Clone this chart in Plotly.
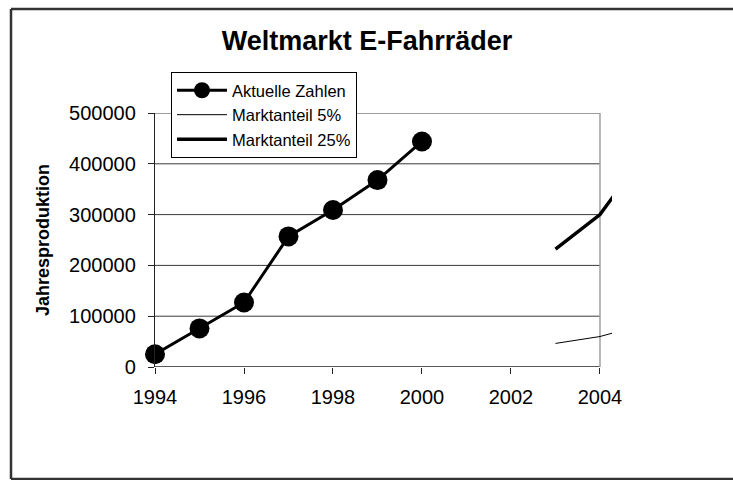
import plotly.graph_objects as go

# ---- data ----
years_actual = [1994, 1995, 1996, 1997, 1998, 1999, 2000]
values_actual = [25000, 76000, 127000, 257000, 309000, 368000, 444000]

years_forecast = [2003, 2004, 2005]
values_5pct = [46400, 60000, 84000]
values_25pct = [232000, 300000, 420000]

series_names = ["Aktuelle Zahlen", "Marktanteil 5%", "Marktanteil 25%"]
y_ticks = [0, 100000, 200000, 300000, 400000, 500000]
x_ticks = [1994, 1996, 1998, 2000, 2002, 2004]

title_text = "Weltmarkt E-Fahrräder"
y_title = "Jahresproduktion"

# ---- layout geometry (window pixels) ----
W, H = 733, 480
PLOT_L, PLOT_R, PLOT_T, PLOT_B = 155, 612, 113, 367
ML, MT = PLOT_L, PLOT_T
PW, PH = PLOT_R - PLOT_L, PLOT_B - PLOT_T
MR, MB = W - ML - PW, H - MT - PH
X_MIN, X_AXIS_END, X_VIEW_END = 1994, 2004, 2004.27
FONT = "Arial, Liberation Sans, sans-serif"


def px_x(p):
    return (p - PLOT_L) / PW


def px_y(p):
    return (PLOT_B - p) / PH


fig = go.Figure()
fig.add_trace(go.Scatter(
    x=years_actual, y=values_actual, name=series_names[0],
    mode="lines+markers", line=dict(color="black", width=3),
    marker=dict(color="black", size=20), cliponaxis=False,
    legendgroup="a",
))
fig.add_trace(go.Scatter(
    x=years_forecast, y=values_5pct, name=series_names[1],
    mode="lines", line=dict(color="black", width=1),
    legendgroup="b",
))
fig.add_trace(go.Scatter(
    x=years_forecast, y=values_25pct, name=series_names[2],
    mode="lines", line=dict(color="black", width=3.5),
    legendgroup="c",
))

shapes = []
for v in y_ticks[1:]:
    shapes.append(dict(type="line", xref="x", yref="y", x0=X_MIN, x1=X_AXIS_END,
                       y0=v, y1=v, line=dict(color="#3a3a3a", width=1), layer="below"))
shapes.append(dict(type="line", xref="x", yref="y", x0=X_MIN, x1=X_AXIS_END,
                   y0=0, y1=0, line=dict(color="#222", width=1.3), layer="below"))
shapes.append(dict(type="line", xref="x", yref="y", x0=X_AXIS_END, x1=X_AXIS_END,
                   y0=0, y1=y_ticks[-1], line=dict(color="#a0a0a0", width=1.5), layer="below"))
# outer chart frame: left, top and bottom edges (right edge lies outside the picture)
frame = dict(color="#333", width=2.5)
bx0, bx1, by0, by1 = px_x(11), px_x(760), px_y(479), px_y(9)
shapes.append(dict(type="line", xref="paper", yref="paper", x0=bx0, x1=bx0, y0=by0, y1=by1, line=frame))
shapes.append(dict(type="line", xref="paper", yref="paper", x0=bx0, x1=bx1, y0=by1, y1=by1, line=frame))
shapes.append(dict(type="line", xref="paper", yref="paper", x0=bx0, x1=bx1, y0=by0, y1=by0, line=frame))

fig.update_layout(
    width=W, height=H,
    margin=dict(l=ML, r=MR, t=MT, b=MB, autoexpand=False),
    paper_bgcolor="white", plot_bgcolor="white",
    font=dict(family=FONT, color="black"),
    title=dict(text="<b>" + title_text + "</b>", x=367 / W, xref="container",
               xanchor="center", y=1 - 41 / H, yref="container", yanchor="middle",
               font=dict(size=27, family=FONT, color="black")),
    showlegend=True,
    legend=dict(x=px_x(171), y=px_y(72), xanchor="left", yanchor="top",
                bgcolor="white", bordercolor="black", borderwidth=1,
                font=dict(size=16.5, family=FONT, color="black"),
                tracegroupgap=0, itemwidth=50),
    xaxis=dict(range=[X_MIN, X_VIEW_END], tickvals=x_ticks, showgrid=False,
               zeroline=False, showline=False, ticks="outside", ticklen=6,
               tickcolor="#222", tickwidth=1, tickfont=dict(size=20, family=FONT),
               ticklabelstandoff=6, automargin=False),
    yaxis=dict(range=[0, y_ticks[-1]], tickvals=y_ticks, tickformat="d", showgrid=False,
               zeroline=False, showline=True, linecolor="#222", linewidth=1.3,
               ticks="outside", ticklen=6, tickcolor="#222", tickwidth=1,
               tickfont=dict(size=20, family=FONT), ticklabelstandoff=8,
               automargin=False,
               title=dict(text="<b>" + y_title + "</b>", standoff=14,
                          font=dict(size=18, family=FONT))),
    shapes=shapes,
)

fig.write_html("out.html",
               config={"displayModeBar": False},
               post_script="document.body.style.margin='0';document.body.style.overflow='hidden';")
